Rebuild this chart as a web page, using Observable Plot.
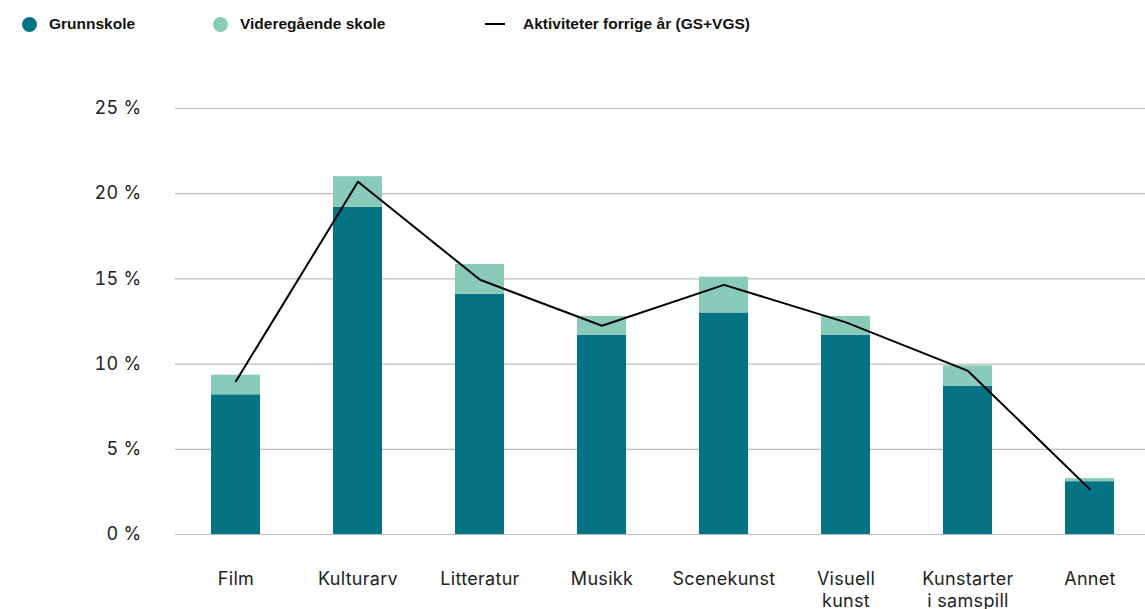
<!DOCTYPE html>
<html>
<head>
<meta charset="utf-8">
<script src="https://cdn.jsdelivr.net/npm/d3@7"></script>
<script src="https://cdn.jsdelivr.net/npm/@observablehq/plot@0.6"></script>
<style>
  html, body { margin: 0; padding: 0; background: #fff; width: 1145px; height: 609px; overflow: hidden; }
  #legend { height: 50px; position: relative; font-family: "Liberation Sans", Arial, sans-serif; font-weight: bold; font-size: 15.5px; color: #111; }
  .item { position: absolute; top: 16px; display: flex; align-items: center; height: 16px; }
  .dot { width: 15px; height: 15px; border-radius: 50%; margin-right: 12px; }
  .ln { width: 20px; height: 2px; background: #000; margin-right: 18px; }
  #chart svg { display: block; overflow: hidden; }
</style>
</head>
<body>
<div id="legend"></div>
<div id="chart"></div>
<script>
const categories = ["Film", "Kulturarv", "Litteratur", "Musikk", "Scenekunst", "Visuell kunst", "Kunstarter i samspill", "Annet"];
const tickLabels = ["Film", "Kulturarv", "Litteratur", "Musikk", "Scenekunst", "Visuell\nkunst", "Kunstarter\ni samspill", "Annet"];
const grunnskole = [8.2, 19.2, 14.1, 11.7, 13.0, 11.7, 8.7, 3.1];
const videregaende = [1.15, 1.8, 1.75, 1.1, 2.1, 1.1, 1.2, 0.18];
const forrigeAr = [9.0, 20.7, 14.95, 12.25, 14.65, 12.45, 9.6, 2.65];
const yTicks = [0, 5, 10, 15, 20, 25];
const seriesNames = ["Grunnskole", "Videregående skole", "Aktiviteter forrige år (GS+VGS)"];
const colors = ["#067385", "#88cbb9", "#000000"];

// legend
const legend = document.getElementById("legend");
const legendX = [22, 213, 485];
seriesNames.forEach((name, i) => {
  const it = document.createElement("div");
  it.className = "item";
  it.style.left = legendX[i] + "px";
  const sw = document.createElement("span");
  if (i < 2) { sw.className = "dot"; sw.style.background = colors[i]; }
  else { sw.className = "ln"; }
  it.appendChild(sw);
  const t = document.createElement("span");
  t.textContent = name;
  it.appendChild(t);
  legend.appendChild(it);
});

const bars = [];
categories.forEach((c, i) => {
  bars.push({cat: c, serie: seriesNames[0], value: grunnskole[i]});
  bars.push({cat: c, serie: seriesNames[1], value: videregaende[i]});
});
const line = categories.map((c, i) => ({cat: c, value: forrigeAr[i]}));
const labelOf = new Map(categories.map((c, i) => [c, tickLabels[i]]));

const chart = Plot.plot({
  width: 1145,
  height: 559,
  marginTop: 58,
  marginBottom: 75,
  marginLeft: 175,
  marginRight: 0,
  style: {fontFamily: "Inter, 'Liberation Sans', sans-serif", fontSize: "18px", color: "#222", letterSpacing: "0.3px"},
  x: {domain: categories, paddingInner: 0.6, paddingOuter: 0.29, range: [175, 1150]},
  y: {domain: [0, 25]},
  color: {domain: seriesNames.slice(0, 2), range: colors.slice(0, 2)},
  marks: [
    Plot.gridY(yTicks, {stroke: "#bdbdbd", strokeOpacity: 1, strokeWidth: 1.2}),
    Plot.axisY(yTicks, {tickSize: 0, tickPadding: 34, tickFormat: d => d + " %", fontSize: 18, label: null}),
    Plot.axisX({tickSize: 0, tickPadding: 35, tickFormat: d => labelOf.get(d), fontSize: 18, lineHeight: 1.22, label: null}),
    Plot.barY(bars, Plot.stackY({x: "cat", y: "value", fill: "serie", order: seriesNames.slice(0, 2)})),
    Plot.line(line, {x: "cat", y: "value", stroke: "#000", strokeWidth: 2})
  ]
});
document.getElementById("chart").appendChild(chart);
</script>
</body>
</html>
